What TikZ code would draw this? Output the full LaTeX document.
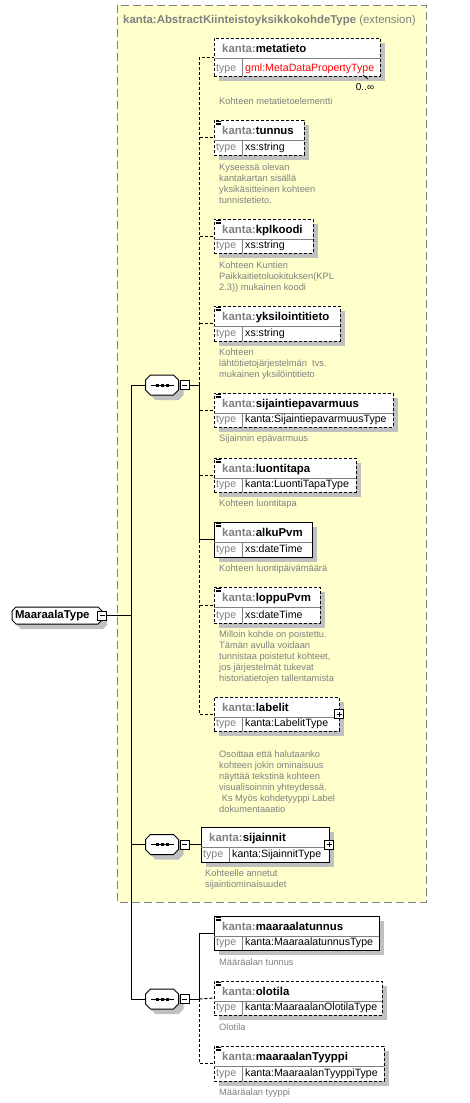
\documentclass[tikz,border=0pt]{standalone}
\usepackage{fontspec}
\setmainfont{Liberation Sans}
\usetikzlibrary{positioning}

\definecolor{extyellow}{HTML}{FFFFCC}
\definecolor{kgray}{HTML}{808080}
\definecolor{shadowgray}{HTML}{C0C0C0}

\tikzset{
  optional/.style={dash pattern=on 3pt off 2pt},
  elem/.style={draw, fill=white, line width=1pt, anchor=north west, inner sep=0pt, outer sep=0pt},
  withdoc/.style={path picture={
      \foreach \k in {1.2,3,4.8}
        \draw[solid, line width=0.7pt] ([xshift=1.5pt,yshift=-\k pt]path picture bounding box.north west) -- ++(5pt,0pt);}},
  divline/.style={solid, draw=kgray, line width=0.8pt},
  elemname/.style={anchor=base west, inner sep=0pt, font=\fontsize{11.4}{13}\selectfont\bfseries},
  typekey/.style={anchor=base west, inner sep=0pt, text=kgray, font=\fontsize{10.6}{12}\selectfont},
  typeval/.style={anchor=base west, inner sep=0pt, font=\fontsize{10.6}{12}\selectfont},
  doctext/.style={anchor=north west, inner sep=0pt, align=left, text=kgray, font=\fontsize{9.3}{11}\selectfont},
  togglebox/.style={draw, solid, fill=white, line width=0.8pt, minimum size=9pt, inner sep=0pt},
  minusmark/.style={path picture={
      \draw[line width=0.8pt] ([xshift=2pt]path picture bounding box.west) -- ([xshift=-2pt]path picture bounding box.east);}},
  plusmark/.style={path picture={
      \draw[line width=0.8pt] ([xshift=2pt]path picture bounding box.west) -- ([xshift=-2pt]path picture bounding box.east)
        ([yshift=2pt]path picture bounding box.south) -- ([yshift=-2pt]path picture bounding box.north);}},
  seqbox/.style={minimum width=33pt, minimum height=20pt, inner sep=0pt,
    path picture={
      \draw[line width=1pt] ([xshift=5pt]path picture bounding box.west) -- ([xshift=-5pt]path picture bounding box.east);
      \foreach \d in {-5,0,5}
        \fill ([xshift=\d pt]path picture bounding box.center) +(-1.5pt,-1.5pt) rectangle +(1.5pt,1.5pt);}},
  rootbox/.style={minimum width=90pt, minimum height=17pt, inner xsep=3pt, inner ysep=0pt, text width=84pt, align=left,
    font=\fontsize{11.4}{13}\selectfont\bfseries},
}

% octagon outline: centre x, centre y, width, height, chamfer
\newcommand{\octpath}[5]{({#1-#3/2+#5},{#2-#4/2}) -- ({#1+#3/2-#5},{#2-#4/2}) -- ({#1+#3/2},{#2-#4/2+#5})
  -- ({#1+#3/2},{#2+#4/2-#5}) -- ({#1+#3/2-#5},{#2+#4/2}) -- ({#1-#3/2+#5},{#2+#4/2})
  -- ({#1-#3/2},{#2+#4/2-#5}) -- ({#1-#3/2},{#2-#4/2+#5}) -- cycle}
\newcommand{\octshape}[5]{%
  \fill[shadowgray, shift={(5,5)}] \octpath{#1}{#2}{#3}{#4}{#5};
  \draw[fill=white, line width=1pt] \octpath{#1}{#2}{#3}{#4}{#5};
}

% name, left, top, width, height, style, type
\newcommand{\elembox}[7]{%
  \fill[shadowgray] ({#2+5},{#3+5}) rectangle ({#2+#4+5},{#3+#5+5});
  \node[elem, #6, minimum width=#4, minimum height=#5] (#1) at (#2,#3) {};
  \draw[divline] ({#2},{#3+20}) -- ({#2+#4},{#3+20}) ({#2+28},{#3+20}) -- ({#2+28},{#3+#5});
  \node[elemname] (#1-name) at ({#2+8},{#3+14}) {\textcolor{kgray}{kanta:}#1};
  \node[typekey] (#1-key) at ({#2+2},{#3+#5-4.5}) {type};
  \node[typeval] (#1-type) at ({#2+31},{#3+#5-4.5}) {#7};
}

\begin{document}
\begin{tikzpicture}[x=1pt, y=-1pt]
        \useasboundingbox (0,0) rectangle (469,1103);

        \draw[fill=extyellow, draw=kgray, line width=1pt, dash pattern=on 8pt off 4pt] (117,5) rectangle (426,902);
        \node[anchor=base west, inner sep=0pt, text=kgray, font=\fontsize{11.4}{13}\selectfont] (exttitle) at (123,23)
            {\textbf{kanta:AbstractKiinteistoyksikkokohdeType} (extension)};

        \octshape{57}{615.5}{90}{17}{4}
        \node[rootbox] (root) at (57,615.5) {MaaraalaType};
        \node[togglebox, minusmark] (root-minus) at (root.east) {};

        \octshape{162}{385}{33}{20}{5}
        \node[seqbox] (seqA) at (162,385) {};
        \node[togglebox, minusmark, right=1pt of seqA] (seqA-minus) {};
        \octshape{162}{844.5}{33}{20}{5}
        \node[seqbox] (seqB) at (162,844.5) {};
        \node[togglebox, minusmark, right=1pt of seqB] (seqB-minus) {};
        \octshape{162}{999}{33}{20}{5}
        \node[seqbox] (seqC) at (162,999) {};
        \node[togglebox, minusmark, right=1pt of seqC] (seqC-minus) {};

        \elembox{metatieto}{214}{38}{166}{38}{optional}{\textcolor{red}{gml:MetaDataPropertyType}}
        \elembox{tunnus}{214}{120}{90}{35}{optional,withdoc}{xs:string}
        \elembox{kplkoodi}{214}{219}{99}{34}{optional,withdoc}{xs:string}
        \elembox{yksilointitieto}{214}{306}{126}{35}{optional,withdoc}{xs:string}
        \elembox{sijaintiepavarmuus}{214}{393}{179}{34}{optional,withdoc}{kanta:SijaintiepavarmuusType}
        \elembox{luontitapa}{214}{458}{142}{34}{optional,withdoc}{kanta:LuontiTapaType}
        \elembox{alkuPvm}{214}{522}{98}{35}{withdoc}{xs:dateTime}
        \elembox{loppuPvm}{214}{587}{106}{36}{optional,withdoc}{xs:dateTime}
        \elembox{labelit}{214}{697}{125}{34}{optional}{kanta:LabelitType}
        \elembox{sijainnit}{201}{827}{128}{35}{}{kanta:SijainnitType}
        \elembox{maaraalatunnus}{214}{916}{165}{34}{withdoc}{kanta:MaaraalatunnusType}
        \elembox{olotila}{214}{981}{168}{34}{optional,withdoc}{kanta:MaaraalanOlotilaType}
        \elembox{maaraalanTyyppi}{214}{1046}{170}{35}{optional,withdoc}{kanta:MaaraalanTyyppiType}

        \node[togglebox, plusmark] (labelit-plus) at (labelit.east) {};
        \node[togglebox, plusmark] (sijainnit-plus) at (sijainnit.east) {};

        \node[anchor=center, inner sep=0pt, font=\fontsize{10}{12}\selectfont] (metatieto-occ) at (365,87) {0..∞};
        \draw[line width=0.8pt] ([xshift=-17pt,yshift=1pt]metatieto.south east) -- ++(5,4);

        \node[doctext] (metatieto-desc) at (219,98) {Kohteen metatietoelementti};
        \node[doctext] (tunnus-desc) at (219,164) {Kyseessä olevan\\kantakartan sisällä\\yksikäsitteinen kohteen\\tunnistetieto.};
        \node[doctext] (kplkoodi-desc) at (219,262) {Kohteen Kuntien\\Paikkaitietoluokituksen(KPL\\2.3)) mukainen koodi};
        \node[doctext] (yksilointitieto-desc) at (219,349) {Kohteen\\lähtötietojärjestelmän\ \ tvs.\\mukainen yksilöintitieto};
        \node[doctext] (sijaintiepavarmuus-desc) at (219,435) {Sijainnin epävarmuus};
        \node[doctext] (luontitapa-desc) at (219,500) {Kohteen luontitapa};
        \node[doctext] (alkuPvm-desc) at (219,565) {Kohteen luontipäivämäärä};
        \node[doctext] (loppuPvm-desc) at (219,631) {Milloin kohde on poistettu.\\Tämän avulla voidaan\\tunnistaa poistetut kohteet,\\jos järjestelmät tukevat\\historiatietojen tallentamista};
        \node[doctext] (labelit-desc) at (219,751) {Osoittaa että halutaanko\\kohteen jokin ominaisuus\\näyttää tekstinä kohteen\\visualisoinnin yhteydessä.\\\hspace*{2.6pt}Ks Myös kohdetyyppi Label\\dokumentaaatio};
        \node[doctext] (sijainnit-desc) at (205,870) {Kohteelle annetut\\sijaintiominaisuudet};
        \node[doctext] (maaraalatunnus-desc) at (219,959) {Määräalan tunnus};
        \node[doctext] (olotila-desc) at (219,1024) {Olotila};
        \node[doctext] (maaraalanTyyppi-desc) at (219,1089) {Määräalan tyyppi};

        \draw[line width=1pt] (root-minus.east) -- ++(24.5,0) coordinate (trunk);
        \draw[line width=1pt] (seqA.west) -| (trunk) |- (seqC.west);
        \draw[line width=1pt] (seqB.west) -- (seqB.west -| trunk);

        \draw[line width=1pt] (seqA-minus.east) -- ++(10,0) coordinate (busA);
        \draw[line width=1pt, optional] (busA) |- (metatieto.west);
        \draw[line width=1pt] (busA) |- (alkuPvm.west);
        \draw[line width=1pt, optional] (busA |- alkuPvm.west) |- (labelit.west);
        \foreach \e in {tunnus,kplkoodi,yksilointitieto,sijaintiepavarmuus,luontitapa,loppuPvm}
            \draw[line width=1pt, optional] (busA |- \e.west) -- (\e.west);

        \draw[line width=1pt] (seqB-minus.east) -- (sijainnit.west);

        \draw[line width=1pt] (seqC-minus.east) -- ++(10,0) coordinate (busC);
        \draw[line width=1pt] (busC) |- (maaraalatunnus.west);
        \draw[line width=1pt, optional] (busC) -- (olotila.west);
        \draw[line width=1pt, optional] (busC) |- (maaraalanTyyppi.west);
    \end{tikzpicture}
\end{document}
